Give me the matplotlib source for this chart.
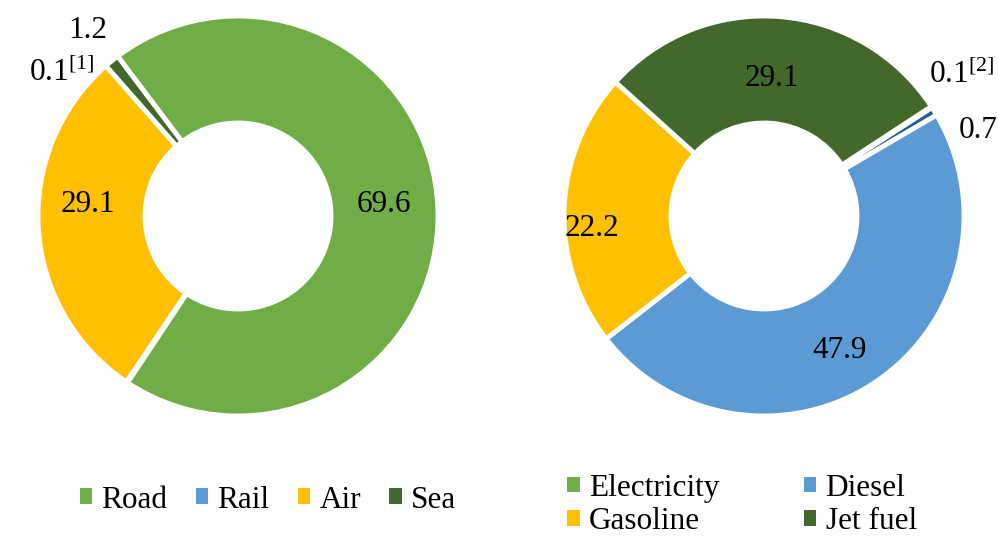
"""Two donut charts: transport mode shares and fuel shares."""

import matplotlib
matplotlib.use("Agg")
import matplotlib.pyplot as plt
from matplotlib.patches import Patch

plt.rcParams["font.family"] = ["Liberation Serif", "DejaVu Serif"]
plt.rcParams["mathtext.fontset"] = "custom"
plt.rcParams["mathtext.rm"] = "Liberation Serif"

GREEN = "#70AD47"
BLUE = "#5B9BD5"
YELLOW = "#FFC000"
DARK_GREEN = "#43682B"
DARK_BLUE = "#255E91"

# left donut: transport mode
MODE_NAMES = ["Road", "Rail", "Air", "Sea"]
MODE_VALUES = [69.6, 0.1, 29.1, 1.2]
MODE_COLORS = [GREEN, BLUE, YELLOW, DARK_GREEN]
MODE_LABELS = ["69.6", r"0.1$^{\mathrm{[1]}}$", "29.1", "1.2"]

# right donut: fuel type (0.7 slice has no legend entry)
FUEL_NAMES = ["Electricity", "Other", "Diesel", "Gasoline", "Jet fuel"]
FUEL_VALUES = [0.1, 0.7, 47.9, 22.2, 29.1]
FUEL_COLORS = [GREEN, DARK_BLUE, BLUE, YELLOW, DARK_GREEN]
FUEL_LABELS = [r"0.1$^{\mathrm{[2]}}$", "0.7", "47.9", "22.2", "29.1"]
# legend fills column by column, so this gives rows Electricity/Diesel, Gasoline/Jet fuel
FUEL_LEGEND = ["Electricity", "Gasoline", "Diesel", "Jet fuel"]

FS = 22.5
W, H = 998, 536


def px_axes(fig, cx, cy, r):
    return fig.add_axes([(cx - r) / W, (H - cy - r) / H, 2 * r / W, 2 * r / H])


def donut(ax, values, colors, start):
    ax.pie(values, colors=colors, startangle=start, counterclock=False,
           radius=1.0,
           wedgeprops=dict(width=0.535, edgecolor="white", linewidth=3.5))
    ax.set_xlim(-1, 1)
    ax.set_ylim(-1, 1)
    ax.set_aspect("equal")
    ax.axis("off")


fig = plt.figure(figsize=(W / 100, H / 100), dpi=100)

ax1 = px_axes(fig, 238, 216, 200)
donut(ax1, MODE_VALUES, MODE_COLORS, 127)
# label positions in units of radius
mode_pos = [(0.73, -0.06), (-0.88, -0.72), (-0.75, -0.06), (-0.75, -0.93)]
for lab, (x, y) in zip(MODE_LABELS, mode_pos):
    ax1.text(x, -y, lab, ha="center", va="center", fontsize=FS, clip_on=False)

ax2 = px_axes(fig, 764, 216, 200)
donut(ax2, FUEL_VALUES, FUEL_COLORS, 33.2)
fuel_pos = [(0.99, -0.71), (1.07, -0.43), (0.38, 0.67), (-0.86, 0.06), (0.04, -0.69)]
for lab, (x, y) in zip(FUEL_LABELS, fuel_pos):
    ax2.text(x, -y, lab, ha="center", va="center", fontsize=FS, clip_on=False)

leg_kw = dict(frameon=False, fontsize=FS, handlelength=0.4, handleheight=0.4,
              handletextpad=0.3, borderaxespad=0, borderpad=0)

h1 = [Patch(facecolor=c) for c in MODE_COLORS]
fig.legend(h1, MODE_NAMES, loc="center", bbox_to_anchor=(268 / W, 1 - 500 / H),
           ncol=4, columnspacing=0.9, **leg_kw)

fuel_color = dict(zip(FUEL_NAMES, FUEL_COLORS))
h2 = [Patch(facecolor=fuel_color[n]) for n in FUEL_LEGEND]
fig.legend(h2, FUEL_LEGEND, loc="center", bbox_to_anchor=(742 / W, 1 - 505 / H),
           ncol=2, columnspacing=2.7, labelspacing=0.15, **leg_kw)

fig.savefig("out.png", dpi=100)
